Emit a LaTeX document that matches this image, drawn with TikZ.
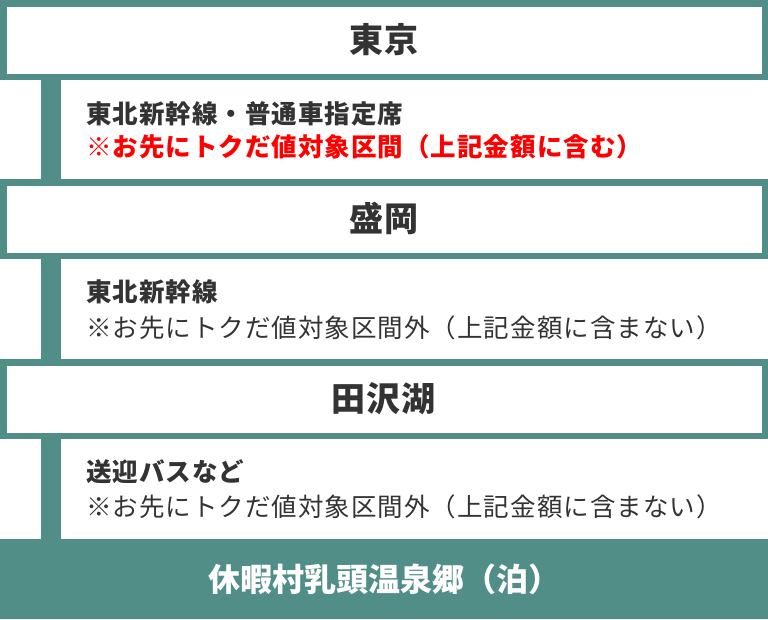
\documentclass[tikz,border=0pt]{standalone}
\usepackage{fontspec}
\setmainfont{Noto Sans CJK JP}
\newfontfamily\spacedA{Noto Sans CJK JP}[LetterSpace=4]
\newfontfamily\spacedB{Noto Sans CJK JP}[LetterSpace=3]
\definecolor{teal1}{HTML}{528E88}
\definecolor{ink}{HTML}{333333}
\definecolor{redtx}{HTML}{FF0000}
\tikzset{
  station/.style={draw=teal1, line width=6.5pt, fill=white, minimum width=761.5pt,
    minimum height=73.5pt, inner sep=0pt, outer sep=0pt, text=ink,
    font=\spacedB\bfseries\fontsize{34pt}{38pt}\selectfont,
    text height=28.2pt, text depth=2.4pt},
  goal/.style={fill=teal1, minimum width=768pt, minimum height=80pt, inner sep=0pt,
    outer sep=0pt, text=white, font=\bfseries\fontsize{32pt}{36pt}\selectfont,
    text height=26.6pt, text depth=2.2pt},
  linehead/.style={anchor=base west, inner sep=0pt, text=ink,
    font=\spacedA\bfseries\fontsize{25.5pt}{30pt}\selectfont},
  notered/.style={anchor=base west, inner sep=0pt, text=redtx,
    font=\spacedA\bfseries\fontsize{25.5pt}{30pt}\selectfont},
  note/.style={anchor=base west, inner sep=0pt, text=ink,
    font=\spacedA\fontsize{25.5pt}{30pt}\selectfont},
  bar/.style={draw=teal1, line width=20pt}
}
\begin{document}
\begin{tikzpicture}[x=1pt, y=-1pt]
\useasboundingbox (0,0) rectangle (768,619);
\coordinate (barx) at (51,0);
\node[station] (tokyo) at (384,40) {東京};
\node[station] (morioka) at (384,219) {盛岡};
\node[station] (tazawako) at (384,399) {田沢湖};
\node[goal] (nyuto) at (384,579) {休暇村乳頭温泉郷（泊）};
\draw[bar] (tokyo.south -| barx) -- (morioka.north -| barx);
\draw[bar] (morioka.south -| barx) -- (tazawako.north -| barx);
\draw[bar] (tazawako.south -| barx) -- (nyuto.north -| barx);
\node[linehead] (s1a) at (86,123.7) {東北新幹線・普通車指定席};
\node[notered] (s1b) at (86,156.7) {※お先にトクだ値対象区間（上記金額に含む）};
\node[linehead] (s2a) at (86,301.7) {東北新幹線};
\node[note] (s2b) at (86,337.7) {※お先にトクだ値対象区間外（上記金額に含まない）};
\node[linehead] (s3a) at (86,481.7) {送迎バスなど};
\node[note] (s3b) at (86,516.7) {※お先にトクだ値対象区間外（上記金額に含まない）};
\end{tikzpicture}
\end{document}
